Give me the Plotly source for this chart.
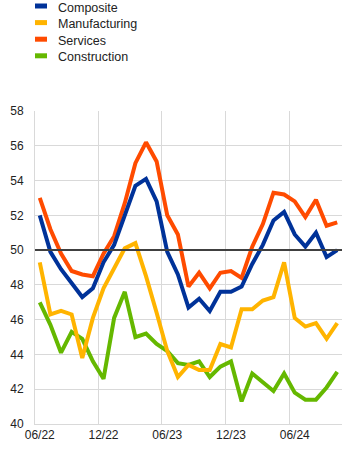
import plotly.graph_objects as go

months = ["06/22", "07/22", "08/22", "09/22", "10/22", "11/22", "12/22",
          "01/23", "02/23", "03/23", "04/23", "05/23", "06/23", "07/23",
          "08/23", "09/23", "10/23", "11/23", "12/23", "01/24", "02/24",
          "03/24", "04/24", "05/24", "06/24", "07/24", "08/24", "09/24", "10/24"]
tick_labels = ["06/22", "12/22", "06/23", "12/23", "06/24"]

composite = [52.0, 49.9, 48.9, 48.1, 47.3, 47.8, 49.3, 50.3, 52.0, 53.7, 54.1,
             52.8, 49.9, 48.6, 46.7, 47.2, 46.5, 47.6, 47.6, 47.9, 49.2, 50.3,
             51.7, 52.2, 50.9, 50.2, 51.0, 49.6, 50.0]
manufacturing = [49.3, 46.3, 46.5, 46.3, 43.8, 46.1, 47.8, 48.9, 50.1, 50.4, 48.5,
                 46.4, 44.2, 42.7, 43.4, 43.1, 43.1, 44.6, 44.4, 46.6, 46.6, 47.1,
                 47.3, 49.3, 46.1, 45.6, 45.8, 44.9, 45.8]
services = [53.0, 51.2, 49.8, 48.8, 48.6, 48.5, 49.8, 50.8, 52.7, 55.0, 56.2,
            55.1, 52.0, 50.9, 47.9, 48.7, 47.8, 48.7, 48.8, 48.4, 50.2, 51.5,
            53.3, 53.2, 52.8, 51.9, 52.9, 51.4, 51.6]
construction = [47.0, 45.7, 44.1, 45.3, 44.9, 43.6, 42.6, 46.1, 47.6, 45.0, 45.2,
                44.6, 44.2, 43.5, 43.4, 43.6, 42.7, 43.3, 43.6, 41.3, 42.9, 42.4,
                41.9, 42.9, 41.8, 41.4, 41.4, 42.1, 43.0]

series = [("Composite", composite, "#003299"),
          ("Manufacturing", manufacturing, "#FFB400"),
          ("Services", services, "#FF4B00"),
          ("Construction", construction, "#65B800")]

W, H = 361, 450
ML, MR, MT, MB = 35, 19, 111, 26
PW, PH = W - ML - MR, H - MT - MB

x = list(range(len(months)))
tickvals = [months.index(t) for t in tick_labels]

fig = go.Figure()
for name, vals, col in [series[3], series[1], series[2], series[0]]:
    fig.add_trace(go.Scatter(x=x, y=vals, mode="lines", name=name,
                             line=dict(color=col, width=4),
                             showlegend=False, hoverinfo="skip"))

fig.add_hline(y=50, line=dict(color="#404040", width=2))

# legend drawn as text + colour keys above the plot
def px_x(p):
    return (p - ML) / PW

def px_y(p):
    return (H - MB - p) / PH

for i, (name, vals, col) in enumerate(series):
    cy = 6.0 + 16.6 * i
    fig.add_shape(type="line", xref="paper", yref="paper",
                  x0=px_x(35), x1=px_x(47), y0=px_y(cy), y1=px_y(cy),
                  line=dict(color=col, width=5))
    fig.add_annotation(xref="paper", yref="paper", x=px_x(56), y=px_y(cy + 1.5),
                       text=name, showarrow=False, xanchor="left", yanchor="middle",
                       font=dict(size=12.5, color="#222222"))

fig.update_layout(
    width=W, height=H,
    margin=dict(l=ML, r=MR, t=MT, b=MB, autoexpand=False),
    paper_bgcolor="white", plot_bgcolor="white",
    showlegend=False,
    font=dict(family="Liberation Sans, Arial, sans-serif", size=12, color="#222222"),
    xaxis=dict(range=[-0.45, 28.45], tickvals=tickvals, ticktext=tick_labels,
               showgrid=False, zeroline=False, ticks="",
               showline=True, linecolor="#d9d9d9", linewidth=1,
               minor=dict(tick0=-0.5, dtick=6, showgrid=True,
                          gridcolor="#d9d9d9", gridwidth=1, ticks="")),
    yaxis=dict(range=[40, 58], dtick=2, showgrid=True, gridcolor="#d9d9d9",
               gridwidth=1, zeroline=False, ticks="", ticklabelstandoff=8,
               showline=True, linecolor="#d9d9d9", linewidth=1),
)

fig.write_html("out.html", config={"displayModeBar": False},
               post_script="document.body.style.margin='0';document.body.style.overflow='hidden';")
